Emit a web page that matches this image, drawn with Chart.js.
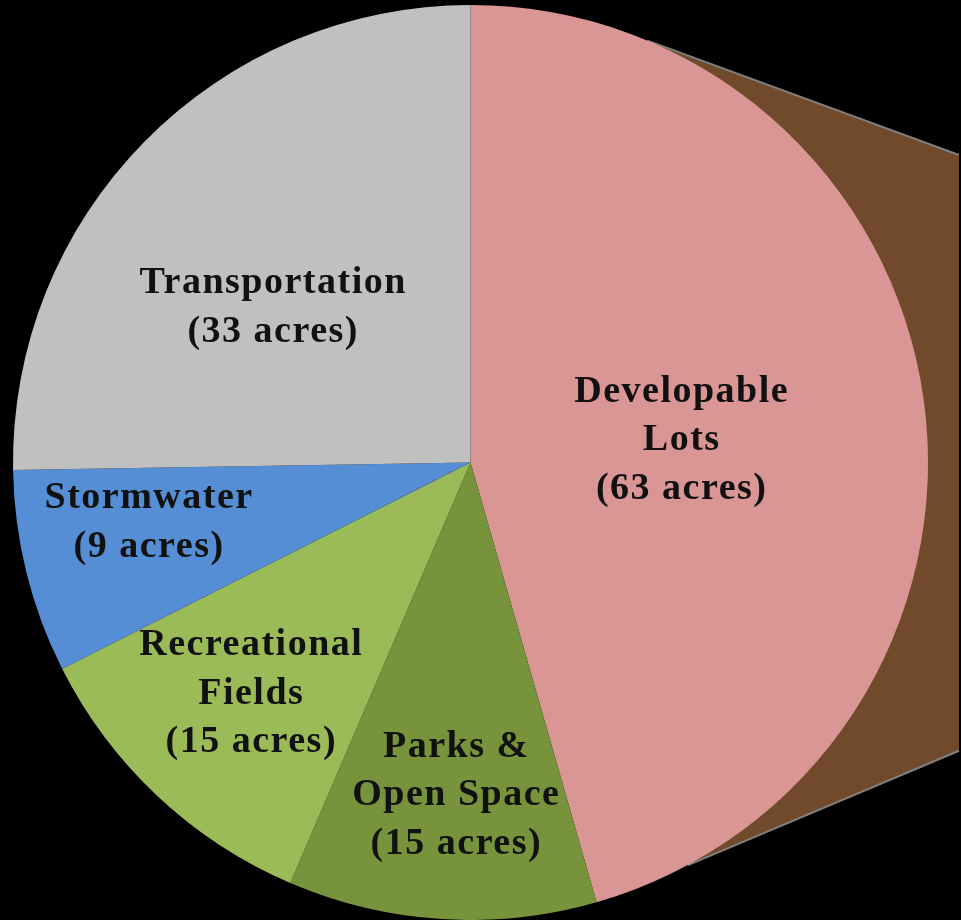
<!DOCTYPE html>
<html>
<head>
<meta charset="utf-8">
<script src="https://cdn.jsdelivr.net/npm/chart.js@4.4.1/dist/chart.umd.min.js"></script>
<style>
  html, body { margin: 0; padding: 0; background: #000; overflow: hidden; }
  canvas { display: block; }
</style>
</head>
<body>
<canvas id="graficoUso" width="961" height="920"></canvas>
<script>
const categorias = ["Developable Lots", "Parks & Open Space", "Recreational Fields", "Stormwater", "Transportation"];
// slice sizes (angles), acres as printed on the labels
const acres = [61.5, 14.7, 15, 9.7, 34.1];
const etiquetas = [
  ["Developable", "Lots", "(63 acres)"],
  ["Parks &", "Open Space", "(15 acres)"],
  ["Recreational", "Fields", "(15 acres)"],
  ["Stormwater", "(9 acres)"],
  ["Transportation", "(33 acres)"]
];
const colores = ["#D99694", "#77933C", "#9BBB59", "#558ED5", "#C0C0C0"];

// label spot inside each slice: angle (deg, clockwise from top) and fraction of radius
const posEtiquetas = [
  { ang: 84, r: 0.462 },
  { ang: 182.6, r: 0.729 },
  { ang: 223.6, r: 0.698 },
  { ang: 259.4, r: 0.717 },
  { ang: 308, r: 0.55 }
];

function punto(cx, cy, rad, angDeg) {
  const a = angDeg * Math.PI / 180;
  return { x: cx + rad * Math.sin(a), y: cy - rad * Math.cos(a) };
}

// brown connector behind the pie (towards a secondary bar off to the right)
const conector = {
  id: "conector",
  beforeDatasetsDraw(chart) {
    const arco = chart.getDatasetMeta(0).data[0];
    if (!arco) return;
    const cx = arco.x, cy = arco.y, R = arco.outerRadius;
    const a = punto(cx, cy, R, 22.75);
    const d = punto(cx, cy, R, 151.7);
    const xFin = chart.width - 2;
    const b = { x: xFin, y: cy - 0.672 * R };
    const c = { x: xFin, y: cy + 0.630 * R };
    const ctx = chart.ctx;
    ctx.save();
    ctx.fillStyle = "#714A2B";
    ctx.beginPath();
    ctx.moveTo(cx, cy);
    ctx.lineTo(a.x, a.y);
    ctx.lineTo(b.x, b.y);
    ctx.lineTo(c.x, c.y);
    ctx.lineTo(d.x, d.y);
    ctx.closePath();
    ctx.fill();
    ctx.strokeStyle = "#7F7F7F";
    ctx.lineWidth = 2;
    ctx.beginPath();
    ctx.moveTo(a.x, a.y);
    ctx.lineTo(b.x, b.y);
    ctx.moveTo(d.x, d.y);
    ctx.lineTo(c.x, c.y);
    ctx.stroke();
    ctx.restore();
  }
};

const textos = {
  id: "textos",
  afterDatasetsDraw(chart) {
    const ctx = chart.ctx;
    const arcos = chart.getDatasetMeta(0).data;
    ctx.save();
    ctx.fillStyle = "#111";
    ctx.font = "bold 38px 'Liberation Serif', serif";
    ctx.letterSpacing = "1.5px";
    ctx.textAlign = "center";
    ctx.textBaseline = "middle";
    const alto = 48.5;
    arcos.forEach((arco, i) => {
      const p = punto(arco.x, arco.y, arco.outerRadius * posEtiquetas[i].r, posEtiquetas[i].ang);
      const lineas = etiquetas[i];
      const y0 = p.y - (lineas.length - 1) * alto / 2;
      lineas.forEach((t, k) => ctx.fillText(t, p.x + 1, y0 + k * alto));
    });
    ctx.restore();
  }
};

const ctx = document.getElementById("graficoUso").getContext("2d");
new Chart(ctx, {
  type: "pie",
  data: {
    labels: categorias,
    datasets: [{
      data: acres,
      backgroundColor: colores,
      borderWidth: 0
    }]
  },
  options: {
    responsive: false,
    animation: false,
    layout: { padding: { left: 13, right: 33, top: 5, bottom: 0 } },
    plugins: {
      legend: { display: false },
      tooltip: { enabled: false }
    }
  },
  plugins: [conector, textos]
});
</script>
</body>
</html>
